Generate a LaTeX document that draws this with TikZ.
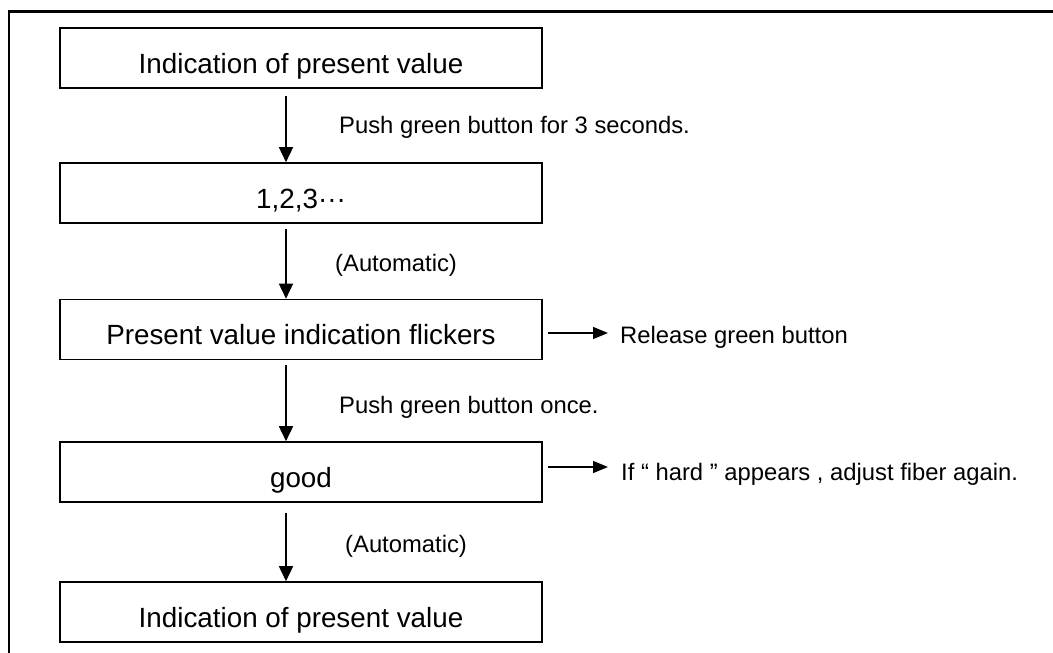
\documentclass[tikz,border=0pt]{standalone}
\usepackage{fontspec}
\setmainfont{Liberation Sans}
\usetikzlibrary{arrows.meta}
\begin{document}
\begin{tikzpicture}[x=1pt,y=-1pt,
  box/.style={draw,line width=1.6pt,minimum width=482pt,minimum height=60pt,inner sep=0pt,
    text height=30pt,text depth=0pt,font=\fontsize{27.8}{32}\selectfont},
  lbl/.style={anchor=base west,inner sep=0pt,font=\fontsize{23.8}{28}\selectfont},
  arr/.style={line width=1.6pt,-{Triangle[length=15pt,width=14pt]}},
  harr/.style={line width=1.6pt,-{Triangle[length=15pt,width=12pt]}}]
\useasboundingbox (0,0) rectangle (1053,653);
\draw[line width=2.2pt] (9,653) -- (9,11.5) -- (1053,11.5);

\node[box] (b1) at (301,58) {Indication of present value};
\node[box] (b2) at (301,193) {1,2,3\textperiodcentered\textperiodcentered\textperiodcentered};
\node[box] (b3) at (301,329.5) {Present value indication flickers};
\node[box] (b4) at (301,472) {good};
\node[box] (b5) at (301,612) {Indication of present value};

\draw[arr,shorten <=7pt] ([xshift=-15pt]b1.south) -- ([xshift=-15pt]b2.north);
\draw[arr,shorten <=5pt] ([xshift=-15pt]b2.south) -- ([xshift=-15pt]b3.north);
\draw[arr,shorten <=5pt] ([xshift=-15pt]b3.south) -- ([xshift=-15pt]b4.north);
\draw[arr,shorten <=10pt] ([xshift=-15pt]b4.south) -- ([xshift=-15pt]b5.north);

\node[lbl] (l1) at (339,133) {Push green button for 3 seconds.};
\node[lbl] (l2) at (335,271) {(Automatic)};
\node[lbl] (l3) at (339,413) {Push green button once.};
\node[lbl] (l4) at (345,552) {(Automatic)};

\node[lbl] (r1) at (620,343) {Release green button};
\node[lbl] (r2) at (621,480) {If “ hard ” appears , adjust fiber again.};

\coordinate (e1) at (608,333);
\coordinate (e2) at (608,467);
\draw[harr,shorten <=5pt] (b3.east |- e1) -- (e1);
\draw[harr,shorten <=5pt] (b4.east |- e2) -- (e2);
\end{tikzpicture}
\end{document}
